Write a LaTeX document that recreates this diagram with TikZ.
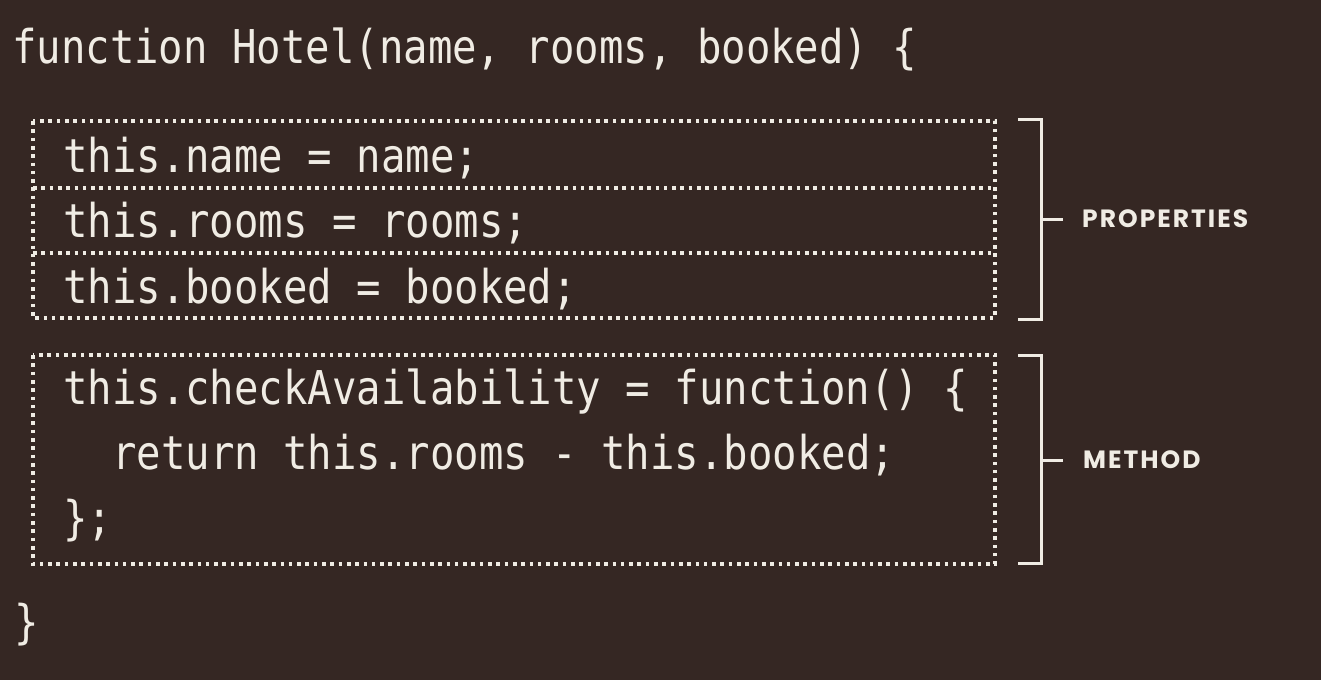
\documentclass[tikz,border=0pt]{standalone}
\usepackage{fontspec}
\setmonofont[FakeStretch=0.872]{DejaVu Sans Mono}
\newfontfamily\tagfont[LetterSpace=8]{Poppins}
\usepackage{tikz}
\usepackage{xcolor}
\usetikzlibrary{positioning}
\definecolor{bg}{RGB}{53,39,35}
\definecolor{chalk}{RGB}{240,236,228}
\tikzstyle{code} = [anchor=base west, inner sep=0pt, text=chalk, font=\fontsize{46.6}{56}\ttfamily]
\tikzstyle{dots} = [draw=chalk, line width=3.6pt, dash pattern=on 3.6pt off 4.7pt]
\tikzstyle{brace} = [draw=chalk, line width=3pt]
\tikzstyle{tag} = [anchor=west, inner sep=0pt, text=chalk, font=\fontsize{25}{28}\tagfont\bfseries]

\begin{document}
\begin{tikzpicture}[x=1pt,y=-1pt]
			\fill[bg] (0,0) rectangle (1321,680);
			\useasboundingbox (0,0) rectangle (1321,680);
			\node[code] (f) at (12,63) {function Hotel(name, rooms, booked) \{};
			% properties
			\draw[dots] (33,121) rectangle (995,318);
			\draw[dots] (33,188) -- (995,188);
			\draw[dots] (33,253) -- (995,253);
			\node[code] (n) at (63,172) {this.name = name;};
			\node[code] (r) at (63,237) {this.rooms = rooms;};
			\node[code] (b) at (63,303) {this.booked = booked;};
			% method
			\draw[dots] (33,355) rectangle (995,564);
			\node[code] (c) at (63,404) {this.checkAvailability = function() \{};
			\node[code] (d) at (112,469) {return this.rooms - this.booked;};
			\node[code] (e) at (63,534) {\};};
			\node[code] (z) at (14,638) {\}};
			% brackets
			\draw[brace] (1018,119) -| (1041,319) -- (1018,319);
			\draw[brace] (1018,355) -| (1041,563) -- (1018,563);
			\coordinate (pb) at (1041,219);
			\coordinate (pt) at (1063,219);
			\coordinate (mb) at (1041,460);
			\coordinate (mt) at (1063,460);
			\node[tag, right = 19pt of pt] (p) {PROPERTIES};
			\node[tag, right = 20pt of mt] (m) {METHOD};
			\draw[brace] (pb) -- (pt);
			\draw[brace] (mb) -- (mt);
		\end{tikzpicture}
\end{document}
